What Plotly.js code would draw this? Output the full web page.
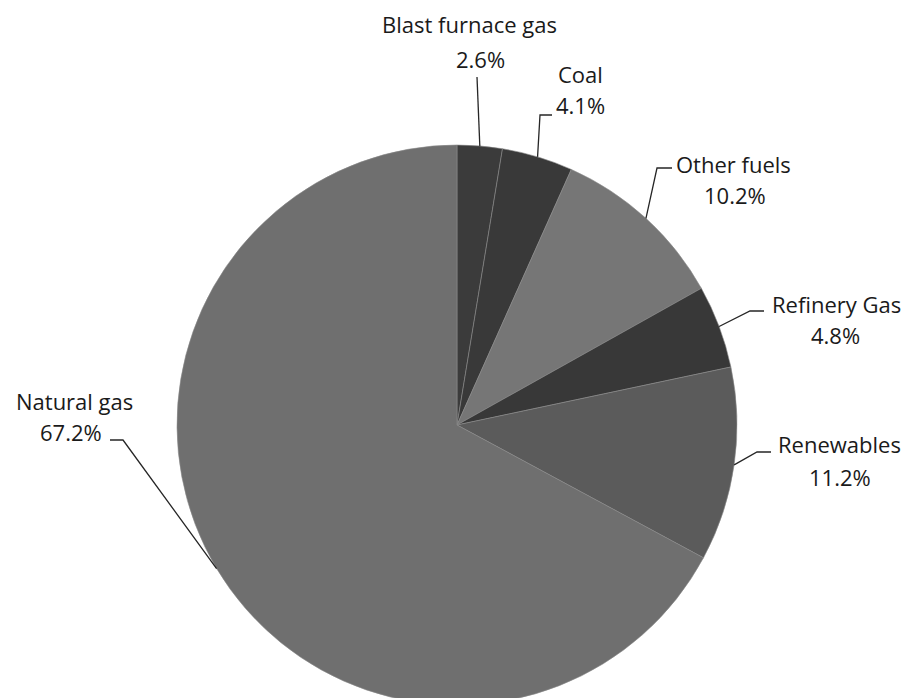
<!DOCTYPE html>
<html>
<head>
<meta charset="utf-8">
<script src="https://cdn.plot.ly/plotly-3.0.1.min.js"></script>
<style>
html,body{margin:0;padding:0;overflow:hidden;background:#fff;}
#chart{width:907px;height:720px;}
</style>
</head>
<body>
<div id="chart"></div>
<script>
// ---- data ----
const labels = ["Blast furnace gas", "Coal", "Other fuels", "Refinery Gas", "Renewables", "Natural gas"];
const shares = [2.6, 4.1, 10.2, 4.8, 11.2, 67.2];

// ---- style ----
const sliceColors = ["#3b3b3b", "#393939", "#767676", "#383838", "#5b5b5b", "#6f6f6f"];
const W = 907, H = 720;
const cx = 457, cy = 425, R = 280;
// label layout (pixels): elbow point, end of horizontal, label centre x/y, percent centre x/y
const labelLayout = [
  {ex: 477, ey: 77,  hx: 477, lx: 470, ly: 24,  qx: 480, qy: 59},
  {ex: 540, ey: 115, hx: 552, lx: 580, ly: 74,  qx: 580, qy: 105},
  {ex: 657, ey: 168, hx: 672, lx: 733, ly: 164, qx: 735, qy: 195},
  {ex: 750, ey: 311, hx: 764, lx: 836, ly: 304, qx: 835, qy: 335},
  {ex: 757, ey: 452, hx: 771, lx: 839, ly: 444, qx: 840, qy: 477},
  {ex: 123, ey: 440, hx: 110, lx: 74,  ly: 401, qx: 71,  qy: 432}
];

const px = x => x / W;
const py = y => 1 - y / H;

const total = shares.reduce((a, b) => a + b, 0);
let cum = 0;
const shapes = [];
const annotations = [];
const font = {family: "Open Sans, Lato, sans-serif", size: 22, color: "#1a1a1a"};
shares.forEach((v, i) => {
  const mid = (cum + v / 2) / total;
  cum += v;
  const ang = mid * 2 * Math.PI;
  const ax = cx + R * Math.sin(ang);
  const ay = cy - R * Math.cos(ang);
  const L = labelLayout[i];
  shapes.push({
    type: "path", xref: "paper", yref: "paper",
    path: `M ${px(ax)},${py(ay)} L ${px(L.ex)},${py(L.ey)} L ${px(L.hx)},${py(L.ey)}`,
    line: {color: "#262626", width: 1.3}
  });
  annotations.push({
    xref: "paper", yref: "paper", x: px(L.lx), y: py(L.ly),
    xanchor: "center", yanchor: "middle", showarrow: false,
    text: labels[i], font: font
  });
  annotations.push({
    xref: "paper", yref: "paper", x: px(L.qx), y: py(L.qy),
    xanchor: "center", yanchor: "middle", showarrow: false,
    text: v.toFixed(1) + "%", font: font
  });
});

const trace = {
  type: "pie",
  labels: labels,
  values: shares,
  sort: false,
  direction: "clockwise",
  rotation: 0,
  textinfo: "none",
  hoverinfo: "label+percent",
  showlegend: false,
  marker: {colors: sliceColors, line: {color: "#8a8a8a", width: 0.6}},
  domain: {x: [px(cx - R), px(cx + R)], y: [py(cy + R), py(cy - R)]}
};

const layout = {
  width: W, height: H,
  margin: {l: 0, r: 0, t: 0, b: 0},
  paper_bgcolor: "#ffffff",
  showlegend: false,
  shapes: shapes,
  annotations: annotations
};

Plotly.newPlot("chart", [trace], layout, {displayModeBar: false, staticPlot: true});
</script>
</body>
</html>
